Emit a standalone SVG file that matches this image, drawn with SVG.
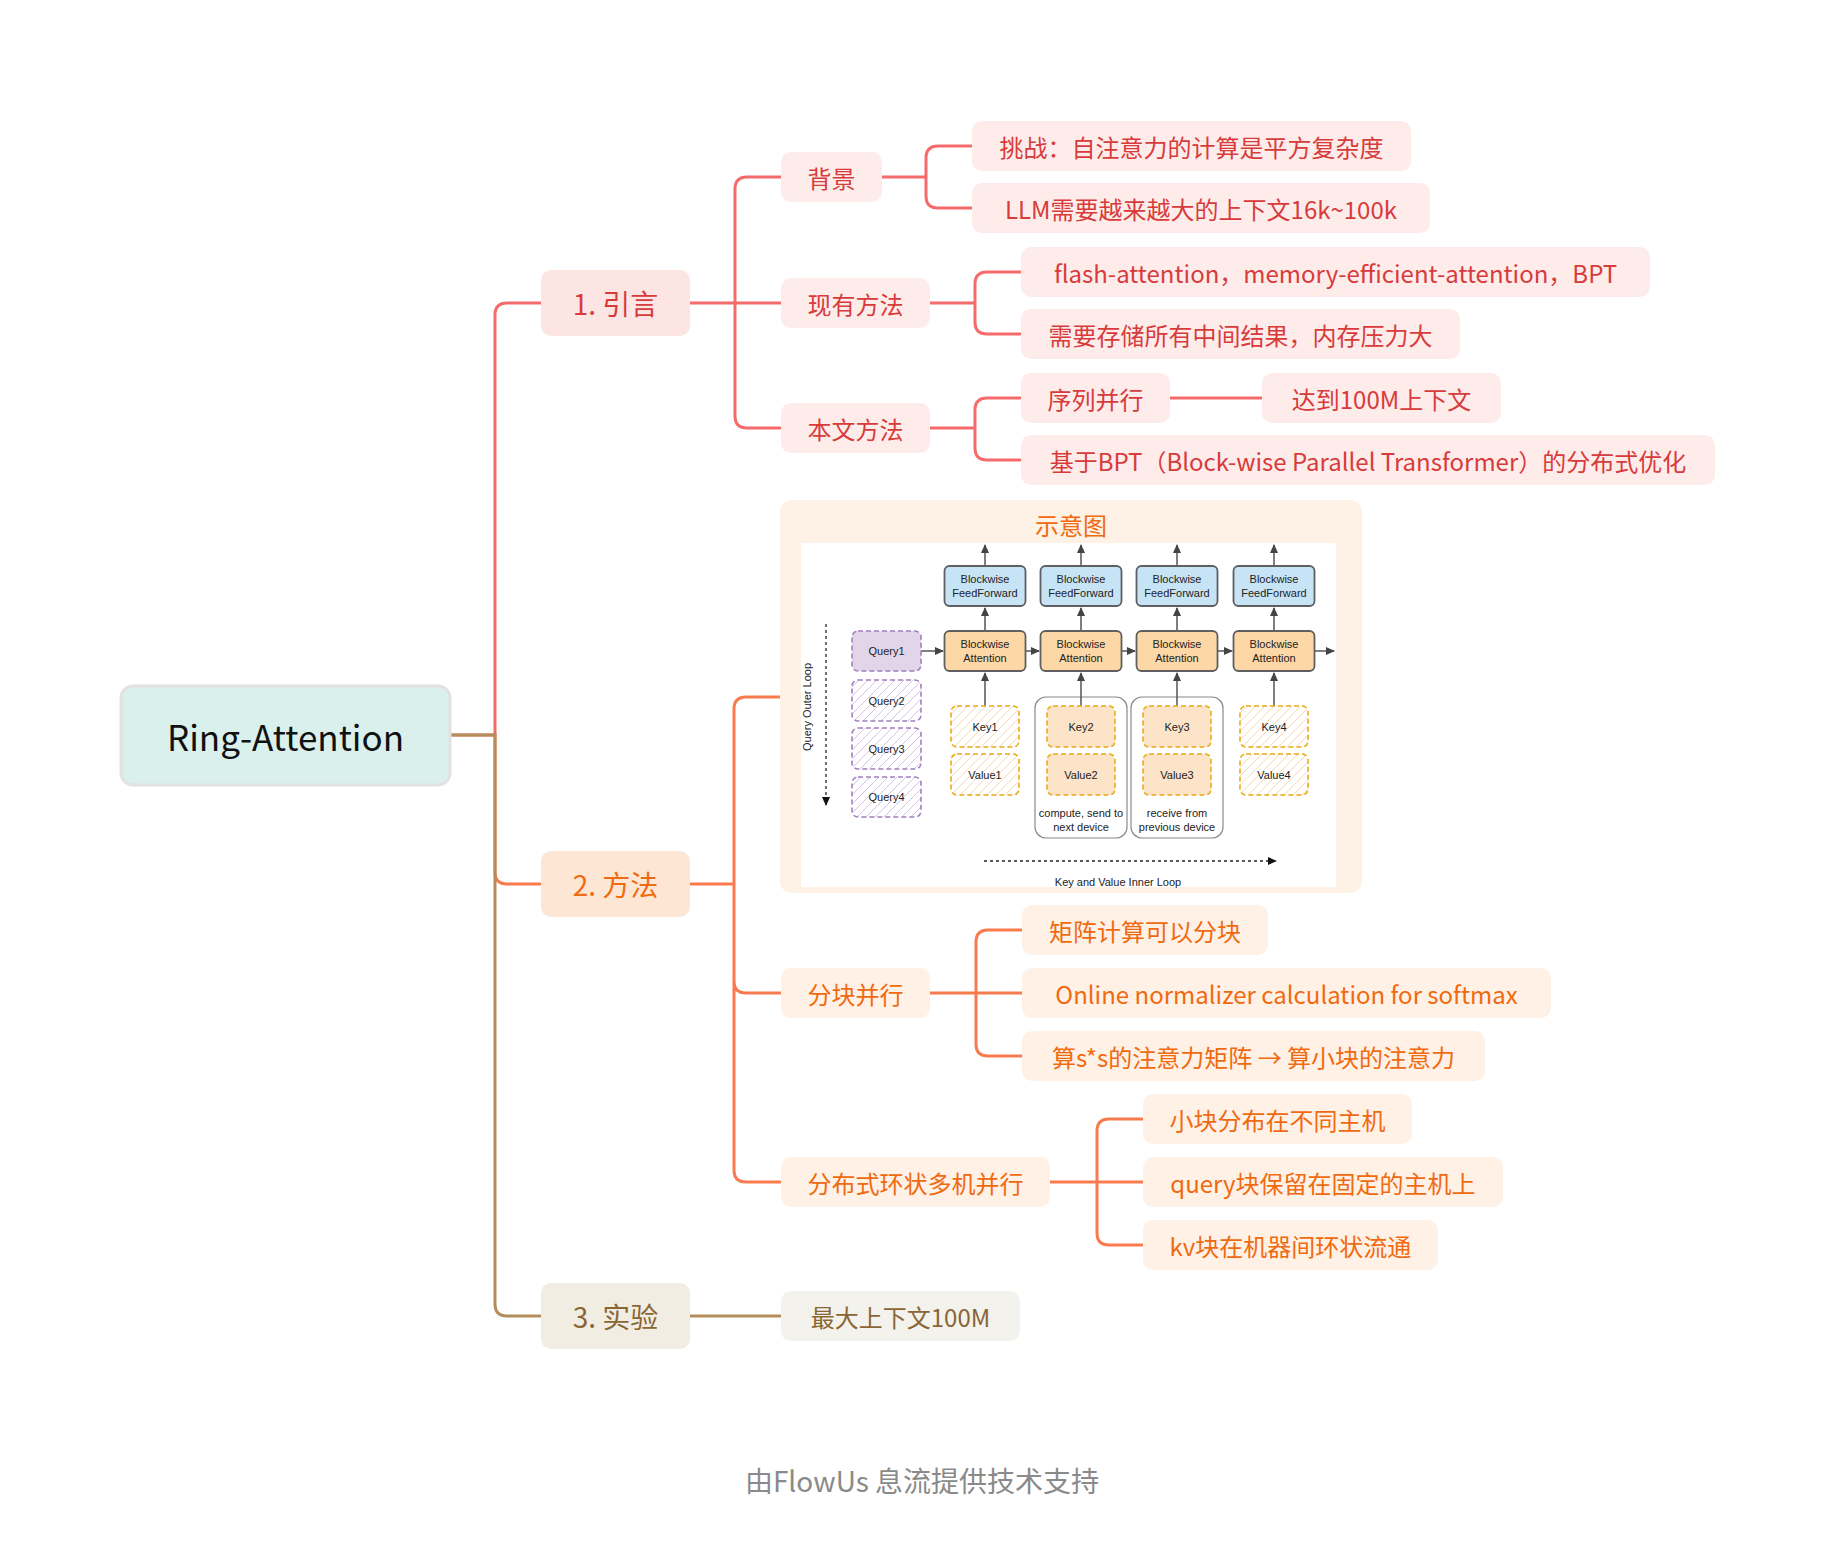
<svg xmlns="http://www.w3.org/2000/svg" width="1833" height="1560" viewBox="0 0 1833 1560">
<style>
.mm{font-family:"Noto Sans CJK SC","Noto Sans",sans-serif;dominant-baseline:central;text-anchor:middle}
.t24{font-size:24px}
.t28{font-size:28px}
.red{fill:#d83b3b}
.org{fill:#f06a10}
.brn{fill:#8a6634}
.lr{stroke:#f56a6a;stroke-width:3;fill:none}
.lo{stroke:#f97b4d;stroke-width:3;fill:none}
.lb{stroke:#b38e5a;stroke-width:3;fill:none}
.bx1r{fill:#fde5e3}
.bx1o{fill:#fee6d4}
.bx1b{fill:#f1ede2}
.bxr{fill:#fdecea}
.bxo{fill:#fff1e5}
.bxb{fill:#f4f2ec}
.dg{font-family:"Liberation Sans",Arial,sans-serif;font-size:11px;fill:#222;text-anchor:middle;dominant-baseline:central}
.ff{fill:#c7e4f6;stroke:#5f5f5f;stroke-width:1.8}
.at{fill:#fdd8a6;stroke:#5f5f5f;stroke-width:1.8}
.ar{stroke:#555;stroke-width:1.5;fill:none;marker-end:url(#ah)}
.qd{stroke:#a07fbf;stroke-width:1.6;stroke-dasharray:5 3}
.kd{stroke:#e9ab12;stroke-width:1.6;stroke-dasharray:5 3}
</style>
<defs>
<marker id="ah" markerUnits="userSpaceOnUse" markerWidth="9" markerHeight="8" refX="8" refY="4" orient="auto"><path d="M0,0 L9,4 L0,8 z" fill="#444"/></marker>
<marker id="ahk" markerUnits="userSpaceOnUse" markerWidth="9" markerHeight="8" refX="8" refY="4" orient="auto"><path d="M0,0 L9,4 L0,8 z" fill="#111"/></marker>
<pattern id="hq" patternUnits="userSpaceOnUse" width="9" height="9"><rect width="9" height="9" fill="#fff"/><path d="M-1,10 L10,-1 M-3,3 L3,-3 M6,12 L12,6" stroke="#d5c4e4" stroke-width="1"/></pattern>
<pattern id="hk" patternUnits="userSpaceOnUse" width="9" height="9"><rect width="9" height="9" fill="#fff"/><path d="M-1,10 L10,-1 M-3,3 L3,-3 M6,12 L12,6" stroke="#fbd6b3" stroke-width="1"/></pattern>
</defs>
<rect width="1833" height="1560" fill="#ffffff"/>

<g id="connectors">
<path class="lr" d="M450,735 H495 V315 Q495,303 507,303 H541"/>
<path class="lo" d="M495,735 V872 Q495,884 507,884 H541"/>
<path class="lb" d="M450,735 H495 V1304 Q495,1316 507,1316 H541"/>
<path class="lr" d="M690,303 H781 M735,303 V189 Q735,177 747,177 H781 M735,303 V416 Q735,428 747,428 H781"/>
<path class="lr" d="M882,177 H926 M926,177 V158 Q926,146 938,146 H972 M926,177 V196 Q926,208 938,208 H972"/>
<path class="lr" d="M930,303 H975 M975,303 V284 Q975,272 987,272 H1021 M975,303 V322 Q975,334 987,334 H1021"/>
<path class="lr" d="M930,428 H975 M975,428 V410 Q975,398 987,398 H1021 M975,428 V448 Q975,460 987,460 H1021"/>
<path class="lr" d="M1170,398 H1262"/>
<path class="lo" d="M689,884 H734 M734,884 V709 Q734,697 746,697 H780 M734,884 V981 Q734,993 746,993 H781 M734,884 V1170 Q734,1182 746,1182 H781"/>
<path class="lo" d="M930,993 H1022 M976,993 V942 Q976,930 988,930 H1022 M976,993 V1044 Q976,1056 988,1056 H1022"/>
<path class="lo" d="M1050,1182 H1143 M1097,1182 V1131 Q1097,1119 1109,1119 H1143 M1097,1182 V1233 Q1097,1245 1109,1245 H1143"/>
<path class="lb" d="M689,1316 H781"/>
</g>

<g id="node-root">
<rect x="121" y="686" width="329" height="99" rx="12" fill="#d9f0ec" stroke="#e2e2e2" stroke-width="3"/>
<text class="mm" x="285.5" y="735" font-size="35" fill="#111">Ring-Attention</text>
</g>

<g id="node-intro">
<rect class="bx1r" x="541" y="270" width="149" height="66" rx="10"/>
<text class="mm t28 red" x="615.5" y="303">1. 引言</text>
</g>
<g id="node-method">
<rect class="bx1o" x="541" y="851" width="149" height="66" rx="10"/>
<text class="mm t28 org" x="615.5" y="884">2. 方法</text>
</g>
<g id="node-exp">
<rect class="bx1b" x="541" y="1283" width="149" height="66" rx="10"/>
<text class="mm t28 brn" x="615.5" y="1316">3. 实验</text>
</g>

<g id="node-bg">
<rect class="bxr" x="781" y="152" width="101" height="50" rx="10"/>
<text class="mm t24 red" x="831.5" y="177">背景</text>
</g>
<g id="node-existing">
<rect class="bxr" x="781" y="278" width="149" height="50" rx="10"/>
<text class="mm t24 red" x="855.5" y="303">现有方法</text>
</g>
<g id="node-ours">
<rect class="bxr" x="781" y="403" width="149" height="50" rx="10"/>
<text class="mm t24 red" x="855.5" y="428">本文方法</text>
</g>
<g id="node-challenge">
<rect class="bxr" x="972" y="121" width="439" height="50" rx="10"/>
<text class="mm t24 red" x="1191.5" y="146">挑战：自注意力的计算是平方复杂度</text>
</g>
<g id="node-llm">
<rect class="bxr" x="972" y="183" width="458" height="50" rx="10"/>
<text class="mm t24 red" x="1201" y="208">LLM需要越来越大的上下文16k~100k</text>
</g>
<g id="node-flash">
<rect class="bxr" x="1021" y="247" width="629" height="50" rx="10"/>
<text class="mm t24 red" x="1335.5" y="272">flash-attention，memory-efficient-attention，BPT</text>
</g>
<g id="node-store">
<rect class="bxr" x="1021" y="309" width="439" height="50" rx="10"/>
<text class="mm t24 red" x="1240.5" y="334">需要存储所有中间结果，内存压力大</text>
</g>
<g id="node-seq">
<rect class="bxr" x="1021" y="373" width="149" height="50" rx="10"/>
<text class="mm t24 red" x="1095.5" y="398">序列并行</text>
</g>
<g id="node-100m">
<rect class="bxr" x="1262" y="373" width="239" height="50" rx="10"/>
<text class="mm t24 red" x="1381.5" y="398">达到100M上下文</text>
</g>
<g id="node-bpt">
<rect class="bxr" x="1021" y="435" width="694" height="50" rx="10"/>
<text class="mm t24 red" x="1368" y="460">基于BPT（Block-wise Parallel Transformer）的分布式优化</text>
</g>

<g id="node-diagram">
<rect x="780" y="500" width="582" height="393" rx="12" fill="#fef1e6"/>
<text class="mm t24 org" x="1071" y="524">示意图</text>
<rect x="801" y="543" width="535" height="344" fill="#ffffff"/>
<rect x="1035" y="697" width="92" height="141" rx="11" fill="#fff" stroke="#8a8a8a" stroke-width="1.2"/>
<rect x="1131" y="697" width="92" height="141" rx="11" fill="#fff" stroke="#8a8a8a" stroke-width="1.2"/>
<line class="ar" x1="985" y1="566" x2="985" y2="545"/>
<line class="ar" x1="1081" y1="566" x2="1081" y2="545"/>
<line class="ar" x1="1177" y1="566" x2="1177" y2="545"/>
<line class="ar" x1="1274" y1="566" x2="1274" y2="545"/>
<line class="ar" x1="985" y1="631" x2="985" y2="608"/>
<line class="ar" x1="1081" y1="631" x2="1081" y2="608"/>
<line class="ar" x1="1177" y1="631" x2="1177" y2="608"/>
<line class="ar" x1="1274" y1="631" x2="1274" y2="608"/>
<line class="ar" x1="985" y1="706" x2="985" y2="673"/>
<line class="ar" x1="1081" y1="706" x2="1081" y2="673"/>
<line class="ar" x1="1177" y1="706" x2="1177" y2="673"/>
<line class="ar" x1="1274" y1="706" x2="1274" y2="673"/>
<line class="ar" x1="921" y1="651" x2="943" y2="651"/>
<line class="ar" x1="1025.5" y1="651" x2="1039" y2="651"/>
<line class="ar" x1="1121.5" y1="651" x2="1135" y2="651"/>
<line class="ar" x1="1217.5" y1="651" x2="1232" y2="651"/>
<line class="ar" x1="1314.5" y1="651" x2="1334" y2="651"/>
<rect class="ff" x="944.5" y="566" width="81" height="40" rx="5"/>
<rect class="ff" x="1040.5" y="566" width="81" height="40" rx="5"/>
<rect class="ff" x="1136.5" y="566" width="81" height="40" rx="5"/>
<rect class="ff" x="1233.5" y="566" width="81" height="40" rx="5"/>
<g class="dg">
<text x="985" y="579">Blockwise</text><text x="985" y="593">FeedForward</text>
<text x="1081" y="579">Blockwise</text><text x="1081" y="593">FeedForward</text>
<text x="1177" y="579">Blockwise</text><text x="1177" y="593">FeedForward</text>
<text x="1274" y="579">Blockwise</text><text x="1274" y="593">FeedForward</text>
</g>
<rect class="at" x="944.5" y="631" width="81" height="40" rx="5"/>
<rect class="at" x="1040.5" y="631" width="81" height="40" rx="5"/>
<rect class="at" x="1136.5" y="631" width="81" height="40" rx="5"/>
<rect class="at" x="1233.5" y="631" width="81" height="40" rx="5"/>
<g class="dg">
<text x="985" y="644">Blockwise</text><text x="985" y="658">Attention</text>
<text x="1081" y="644">Blockwise</text><text x="1081" y="658">Attention</text>
<text x="1177" y="644">Blockwise</text><text x="1177" y="658">Attention</text>
<text x="1274" y="644">Blockwise</text><text x="1274" y="658">Attention</text>
</g>
<rect class="qd" x="852" y="631" width="69" height="40" rx="6" fill="#e2d5ea"/>
<rect class="qd" x="852" y="680" width="69" height="41" rx="6" fill="url(#hq)"/>
<rect class="qd" x="852" y="728" width="69" height="41" rx="6" fill="url(#hq)"/>
<rect class="qd" x="852" y="777" width="69" height="40" rx="6" fill="url(#hq)"/>
<g class="dg">
<text x="886.5" y="651">Query1</text>
<text x="886.5" y="700.5">Query2</text>
<text x="886.5" y="748.5">Query3</text>
<text x="886.5" y="797">Query4</text>
</g>
<rect class="kd" x="951" y="706" width="68" height="41" rx="6" fill="url(#hk)"/>
<rect class="kd" x="951" y="754" width="68" height="41" rx="6" fill="url(#hk)"/>
<rect class="kd" x="1047" y="706" width="68" height="41" rx="6" fill="#fde3c8"/>
<rect class="kd" x="1047" y="754" width="68" height="41" rx="6" fill="#fde3c8"/>
<rect class="kd" x="1143" y="706" width="68" height="41" rx="6" fill="#fde3c8"/>
<rect class="kd" x="1143" y="754" width="68" height="41" rx="6" fill="#fde3c8"/>
<rect class="kd" x="1240" y="706" width="68" height="41" rx="6" fill="url(#hk)"/>
<rect class="kd" x="1240" y="754" width="68" height="41" rx="6" fill="url(#hk)"/>
<g class="dg">
<text x="985" y="726.5">Key1</text><text x="985" y="774.5">Value1</text>
<text x="1081" y="726.5">Key2</text><text x="1081" y="774.5">Value2</text>
<text x="1177" y="726.5">Key3</text><text x="1177" y="774.5">Value3</text>
<text x="1274" y="726.5">Key4</text><text x="1274" y="774.5">Value4</text>
<text x="1081" y="813">compute, send to</text><text x="1081" y="827">next device</text>
<text x="1177" y="813">receive from</text><text x="1177" y="827">previous device</text>
<text x="1118" y="882">Key and Value Inner Loop</text>
<text x="807" y="707" transform="rotate(-90 807 707)">Query Outer Loop</text>
</g>
<path d="M826,624 V805" stroke="#222" stroke-width="1.3" stroke-dasharray="3 3" fill="none" marker-end="url(#ahk)"/>
<path d="M984,861 H1276" stroke="#222" stroke-width="1.3" stroke-dasharray="3 3" fill="none" marker-end="url(#ahk)"/>
</g>

<g id="node-block">
<rect class="bxo" x="781" y="968" width="149" height="50" rx="10"/>
<text class="mm t24 org" x="855.5" y="993">分块并行</text>
</g>
<g id="node-dist">
<rect class="bxo" x="781" y="1157" width="269" height="50" rx="10"/>
<text class="mm t24 org" x="915.5" y="1182">分布式环状多机并行</text>
</g>
<g id="node-matrix">
<rect class="bxo" x="1022" y="905" width="246" height="50" rx="10"/>
<text class="mm t24 org" x="1145" y="930">矩阵计算可以分块</text>
</g>
<g id="node-online">
<rect class="bxo" x="1022" y="968" width="529" height="50" rx="10"/>
<text class="mm t24 org" x="1286.5" y="993">Online normalizer calculation for softmax</text>
</g>
<g id="node-ss">
<rect class="bxo" x="1022" y="1031" width="463" height="50" rx="10"/>
<text class="mm t24 org" x="1253.5" y="1056">算s*s的注意力矩阵 → 算小块的注意力</text>
</g>
<g id="node-small">
<rect class="bxo" x="1143" y="1094" width="269" height="50" rx="10"/>
<text class="mm t24 org" x="1277.5" y="1119">小块分布在不同主机</text>
</g>
<g id="node-query">
<rect class="bxo" x="1143" y="1157" width="360" height="50" rx="10"/>
<text class="mm t24 org" x="1323" y="1182">query块保留在固定的主机上</text>
</g>
<g id="node-kv">
<rect class="bxo" x="1143" y="1220" width="295" height="50" rx="10"/>
<text class="mm t24 org" x="1290.5" y="1245">kv块在机器间环状流通</text>
</g>

<g id="node-max">
<rect class="bxb" x="781" y="1291" width="239" height="50" rx="10"/>
<text class="mm t24 brn" x="900.5" y="1316">最大上下文100M</text>
</g>

<text class="mm" x="922" y="1480" font-size="28" fill="#8a8a8a">由FlowUs 息流提供技术支持</text>
</svg>
